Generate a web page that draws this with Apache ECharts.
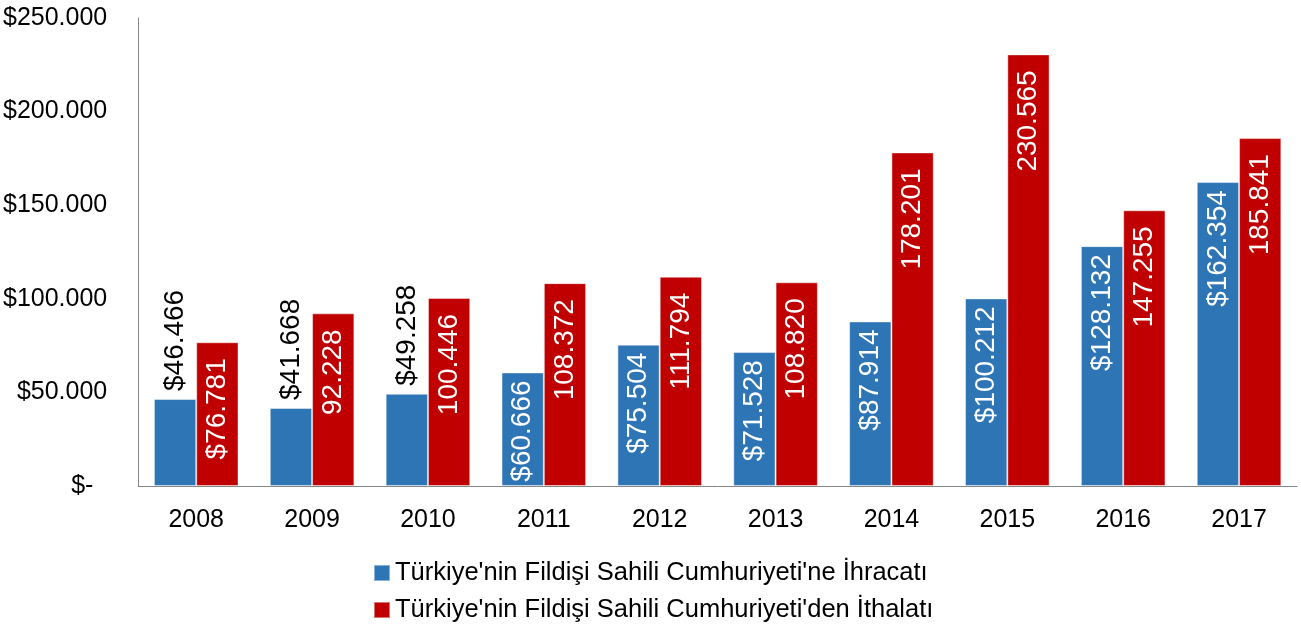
<!DOCTYPE html>
<html><head><meta charset="utf-8">
<script src="https://cdn.jsdelivr.net/npm/echarts@6/dist/echarts.min.js"></script>
<style>html,body{margin:0;padding:0;background:#fff}#c{width:1301px;height:624px}</style>
</head><body><div id="c"></div>
<script>
const years = ['2008','2009','2010','2011','2012','2013','2014','2015','2016','2017'];
const exportsTR = [46466, 41668, 49258, 60666, 75504, 71528, 87914, 100212, 128132, 162354];
const importsTR = [76781, 92228, 100446, 108372, 111794, 108820, 178201, 230565, 147255, 185841];
const exportName = "Türkiye'nin Fildişi Sahili Cumhuriyeti'ne İhracatı";
const importName = "Türkiye'nin Fildişi Sahili Cumhuriyeti'den İthalatı";
const yTicks = [0, 50000, 100000, 150000, 200000, 250000];
const exportLabelOutside = [true, true, true, false, false, false, false, false, false, false];
const importLabelDollar = [true, false, false, false, false, false, false, false, false, false];

const FONT = 'Liberation Sans';
function fmt(v){ return String(Math.round(v)).replace(/\B(?=(\d{3})+(?!\d))/g, '.'); }

const chart = echarts.init(document.getElementById('c'), null, {renderer:'canvas'});
const insideLbl = {show:true, position:'insideTop', rotate:90, align:'right', verticalAlign:'middle', distance:8, color:'#fff', fontFamily:FONT, fontSize:28};
const outsideLbl = {show:true, position:'top', rotate:90, align:'left', verticalAlign:'middle', distance:8, color:'#000', fontFamily:FONT, fontSize:28};
const legendText = {fontFamily:FONT, fontSize:25.5, color:'#000'};

chart.setOption({
  animation:false,
  grid:{left:138, right:4, top:18, bottom:138, containLabel:false},
  legend:[
    {left:368, top:555, itemWidth:16, itemHeight:16, icon:'rect', textStyle:legendText, data:[exportName]},
    {left:368, top:592, itemWidth:16, itemHeight:16, icon:'rect', textStyle:legendText, data:[importName]}
  ],
  xAxis:{
    type:'category', data:years,
    axisLine:{lineStyle:{color:'#868686', width:1}},
    axisTick:{show:false},
    axisLabel:{color:'#000', fontFamily:FONT, fontSize:25, margin:22}
  },
  yAxis:{
    type:'value', min:yTicks[0], max:yTicks[yTicks.length-1], interval:yTicks[1]-yTicks[0],
    axisLine:{show:true, lineStyle:{color:'#868686', width:1}},
    axisTick:{show:false},
    splitLine:{show:false},
    axisLabel:{color:'#000', fontFamily:FONT, fontSize:25, margin:31,
      formatter:v => v === 0 ? '$-  ' : '$' + fmt(v)}
  },
  series:[
    {
      name:exportName, type:'bar', barGap:'0%', barCategoryGap:'27%',
      itemStyle:{color:'#2E75B6', borderColor:'rgba(255,255,255,0.45)', borderWidth:1},
      data: exportsTR.map((v,i)=>({value:v, label: exportLabelOutside[i] ? outsideLbl : insideLbl})),
      label:{formatter:p => '$' + fmt(p.value)}
    },
    {
      name:importName, type:'bar', barGap:'0%', barCategoryGap:'27%',
      itemStyle:{color:'#C00000', borderColor:'rgba(255,255,255,0.45)', borderWidth:1},
      data: importsTR.map(v=>({value:v})),
      label:Object.assign({}, insideLbl, {distance:16, formatter:p => (importLabelDollar[p.dataIndex] ? '$' : '') + fmt(p.value)})
    }
  ]
});
</script></body></html>
